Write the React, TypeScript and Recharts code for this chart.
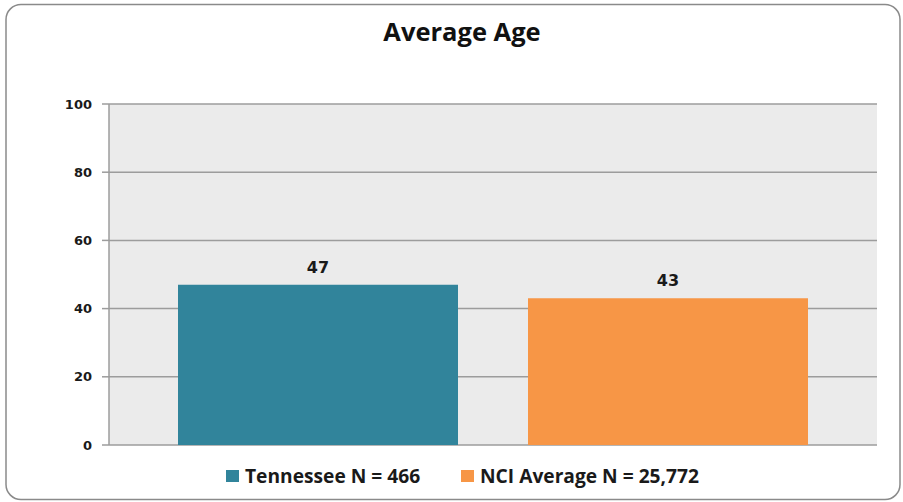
import React from "react";
import { BarChart, Bar, XAxis, YAxis, CartesianGrid, LabelList } from "recharts";

const categories = ["Average Age"];
const tennesseeValues = [47];
const nciValues = [43];
const yTicks = [0, 20, 40, 60, 80, 100];
const seriesNames = ["Tennessee N = 466", "NCI Average N = 25,772"];
const seriesColors = ["#31849B", "#F79646"];

const data = categories.map((c, i) => ({
  name: c,
  tn: tennesseeValues[i],
  nci: nciValues[i],
}));

// legend item left edges
const legendLeft = [226, 461];

export default function App() {
  return (
    <div style={{ position: "absolute", left: 0, top: 0, width: 903, height: 502, background: "#fff", overflow: "hidden" }}>
      <svg width={903} height={502} style={{ position: "absolute", left: 0, top: 0 }}>
        <rect x={6} y={4.5} width={894} height={495} rx={15} ry={15} fill="#fff" stroke="#8a8a8a" strokeWidth={1.5} />
      </svg>
      <div
        style={{
          position: "absolute",
          left: 0,
          width: 924,
          top: 14,
          textAlign: "center",
          fontFamily: "Open Sans",
          fontWeight: 700,
          fontSize: 25.5,
          color: "#111",
        }}
      >
        Average Age
      </div>
      <div style={{ position: "absolute", left: 0, top: 0 }}>
        <BarChart
          width={903}
          height={502}
          data={data}
          margin={{ top: 104, right: 26, bottom: 57, left: 0 }}
          barGap={70}
          barSize={280}
        >
          <CartesianGrid vertical={false} fill="#EBEBEB" stroke="#9c9c9c" strokeWidth={1.5} />
          <XAxis dataKey="name" hide />
          <YAxis
            width={109}
            domain={[0, 100]}
            ticks={yTicks}
            interval={0}
            tickSize={7}
            tickMargin={10}
            axisLine={{ stroke: "#9c9c9c", strokeWidth: 1.5 }}
            tickLine={{ stroke: "#9c9c9c", strokeWidth: 1.5 }}
            tick={{ fill: "#1a1a1a", fontSize: 13, fontWeight: 700, fontFamily: "DejaVu Sans" }}
          />
          <Bar dataKey="tn" name={seriesNames[0]} fill={seriesColors[0]} isAnimationActive={false}>
            <LabelList dataKey="tn" position="top" offset={12} style={{ fill: "#1a1a1a", fontSize: 16, fontWeight: 700, fontFamily: "DejaVu Sans" }} />
          </Bar>
          <Bar dataKey="nci" name={seriesNames[1]} fill={seriesColors[1]} isAnimationActive={false}>
            <LabelList dataKey="nci" position="top" offset={12} style={{ fill: "#1a1a1a", fontSize: 16, fontWeight: 700, fontFamily: "DejaVu Sans" }} />
          </Bar>
        </BarChart>
      </div>
      {seriesNames.map((n, i) => (
        <div
          key={n}
          style={{
            position: "absolute",
            left: legendLeft[i],
            top: 462,
            display: "flex",
            alignItems: "center",
            fontFamily: "Open Sans",
            fontWeight: 700,
            fontSize: 19.2,
            color: "#1a1a1a",
            whiteSpace: "nowrap",
          }}
        >
          <span style={{ width: 13, height: 12, background: seriesColors[i], display: "inline-block", marginRight: 6 }} />
          <span>{n}</span>
        </div>
      ))}
    </div>
  );
}
